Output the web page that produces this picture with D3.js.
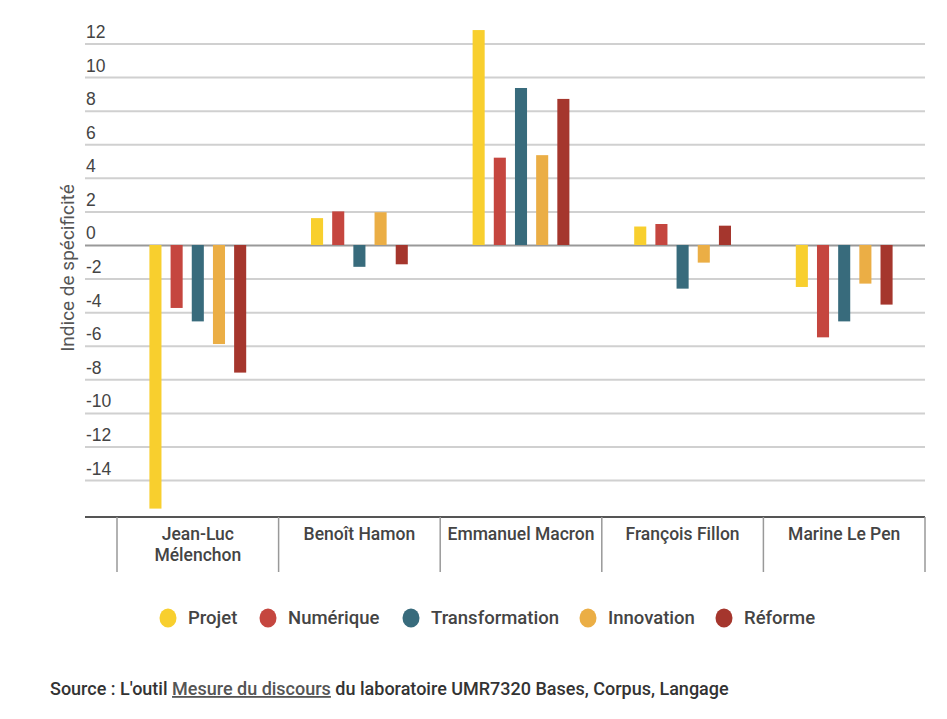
<!DOCTYPE html>
<html>
<head>
<meta charset="utf-8">
<script src="https://cdn.jsdelivr.net/npm/d3@7"></script>
<style>
    body { margin: 0; background: #fff; }
    svg { font-family: Roboto, "Open Sans", sans-serif; }
</style>
</head>
<body>
<svg width="947" height="719"></svg>
<script>
const candidates = ['Jean-Luc Mélenchon', 'Benoît Hamon', 'Emmanuel Macron', 'François Fillon', 'Marine Le Pen'],
    labelLines = [['Jean-Luc', 'Mélenchon'], ['Benoît Hamon'], ['Emmanuel Macron'], ['François Fillon'], ['Marine Le Pen']],
    series = ['Projet', 'Numérique', 'Transformation', 'Innovation', 'Réforme'],
    colors = ['#f8cf2e', '#c5463f', '#386b7c', '#ebae45', '#a5362d'],
    // one array per series, in candidate order
    projet = [-15.7, 1.6, 12.8, 1.1, -2.5],
    numerique = [-3.75, 2.0, 5.2, 1.25, -5.5],
    transformation = [-4.55, -1.3, 9.35, -2.6, -4.55],
    innovation = [-5.9, 1.95, 5.35, -1.05, -2.3],
    reforme = [-7.6, -1.15, 8.7, 1.15, -3.55],
    yTicks = [12, 10, 8, 6, 4, 2, 0, -2, -4, -6, -8, -10, -12, -14];

const values = [projet, numerique, transformation, innovation, reforme];

const svg = d3.select("svg"),
    left = 85, right = 925,
    x0 = d3.scaleBand().domain(candidates).range([117, right]).paddingInner(0),
    x1 = d3.scaleBand().domain(series).range([0, x0.bandwidth()]).paddingInner(0.43).paddingOuter(1.53),
    y = d3.scaleLinear().domain([-16.2, 12]).range([517, 43.5]),
    color = d3.scaleOrdinal().domain(series).range(colors);

// grid + tick labels (plain hyphen, like the original)
const yAxis = svg.append("g")
    .attr("transform", `translate(${left},0)`)
    .call(d3.axisRight(y).tickValues(yTicks).tickSize(right - left).tickFormat((d) => String(d)));
yAxis.select(".domain").remove();
yAxis.selectAll(".tick line")
    .attr("stroke", (d) => d === 0 ? "#999" : "#d0d0d0")
    .attr("stroke-width", 2);
yAxis.selectAll(".tick text")
    .attr("x", 1)
    .attr("dy", -6)
    .attr("fill", "#444")
    .attr("font-size", 17.5)
    .attr("font-weight", 500)
    .attr("text-anchor", "start");

// bars
const table = candidates.map((c, i) => ({name: c, vals: series.map((s, j) => ({key: s, value: values[j][i]}))}));
svg.append("g").selectAll("g")
    .data(table)
    .join("g")
        .attr("transform", (d) => `translate(${x0(d.name)},0)`)
    .selectAll("rect")
    .data((d) => d.vals)
    .join("rect")
        .attr("x", (d) => x1(d.key))
        .attr("width", x1.bandwidth())
        .attr("y", (d) => y(Math.max(0, d.value)))
        .attr("height", (d) => Math.abs(y(d.value) - y(0)))
        .attr("fill", (d) => color(d.key));

// bottom axis and separators
const base = y.range()[0];
svg.append("line")
    .attr("x1", left).attr("x2", right)
    .attr("y1", base).attr("y2", base)
    .attr("stroke", "#555").attr("stroke-width", 2);
svg.append("g").selectAll("line")
    .data(candidates.map((c) => x0(c)).concat([right]))
    .join("line")
        .attr("x1", (d) => d).attr("x2", (d) => d)
        .attr("y1", base).attr("y2", base + 55)
        .attr("stroke", "#999").attr("stroke-width", 1.5);
svg.append("g").selectAll("text")
    .data(candidates)
    .join("text")
        .attr("x", (d) => x0(d) + x0.bandwidth() / 2)
        .attr("y", base + 23)
        .attr("text-anchor", "middle")
        .attr("font-size", 17.5)
        .attr("font-weight", 500)
        .attr("fill", "#444")
        .each(function(d, i) {
            d3.select(this).selectAll("tspan")
                .data(labelLines[i])
                .join("tspan")
                    .attr("x", x0(d) + x0.bandwidth() / 2)
                    .attr("dy", (t, k) => k === 0 ? 0 : 21)
                    .text((t) => t);
        });

// y title
svg.append("text")
    .attr("transform", "translate(74,268) rotate(-90)")
    .attr("text-anchor", "middle")
    .attr("font-size", 19)
    .attr("fill", "#555")
    .text("Indice de spécificité");

// legend
const legendX = [168, 268, 411, 588, 724];
const legend = svg.append("g").selectAll("g")
    .data(series)
    .join("g")
        .attr("transform", (d, i) => `translate(${legendX[i]},618)`);
legend.append("ellipse")
    .attr("rx", 8.5).attr("ry", 9.5)
    .attr("fill", (d) => color(d));
legend.append("text")
    .attr("x", 20)
    .attr("dy", "0.35em")
    .attr("font-size", 18.5)
    .attr("font-weight", 500)
    .attr("fill", "#444")
    .text((d) => d);

// source
const src = svg.append("text")
    .attr("x", 50).attr("y", 695)
    .attr("font-size", 18)
    .attr("font-weight", 500)
    .attr("fill", "#333");
src.append("tspan").text("Source : L'outil ");
src.append("tspan").attr("text-decoration", "underline").attr("fill", "#555").text("Mesure du discours");
src.append("tspan").text(" du laboratoire UMR7320 Bases, Corpus, Langage");
</script>
</body>
</html>
